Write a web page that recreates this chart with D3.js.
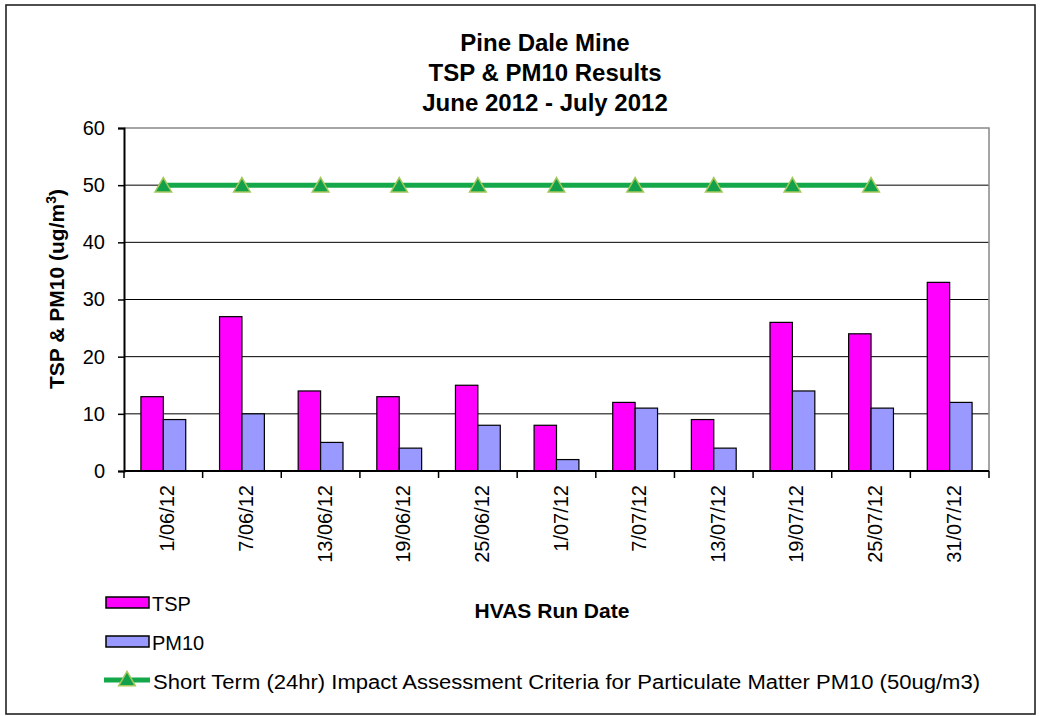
<!DOCTYPE html>
<html>
<head>
<meta charset="utf-8">
<script src="https://cdn.jsdelivr.net/npm/d3@7"></script>
<style>
  body { margin: 0; background: #fff; }
  text { font-family: "Liberation Sans", Arial, sans-serif; fill: #000; }
</style>
</head>
<body>
<div id="vis-container"></div>
<script>
(async () => {

    ////////////////////////////////////
    ////////////// Data ////////////////
    ////////////////////////////////////

    const dates = ['1/06/12', '7/06/12', '13/06/12', '19/06/12', '25/06/12', '1/07/12',
        '7/07/12', '13/07/12', '19/07/12', '25/07/12', '31/07/12']
    const tsp = [13, 27, 14, 13, 15, 8, 12, 9, 26, 24, 33]
    const pm10 = [9, 10, 5, 4, 8, 2, 11, 4, 14, 11, 12]
    // criteria line only runs to 25/07/12
    const criteriaDates = dates.slice(0, 10)
    const criteria = [50, 50, 50, 50, 50, 50, 50, 50, 50, 50]
    const yTicks = [0, 10, 20, 30, 40, 50, 60]

    const titleLines = ['Pine Dale Mine', 'TSP & PM10 Results', 'June 2012 - July 2012']

    ////////////////////////////////////
    ///////////// SVG Setup ////////////
    ////////////////////////////////////

    const svgWidth = 1041
    const svgHeight = 716

    const plot = { left: 124, right: 989, top: 128, bottom: 471 }

    const svg = d3.select('#vis-container')
        .append('svg')
        .attr('width', svgWidth)
        .attr('height', svgHeight)

    // chart frame
    svg.append('rect')
        .attr('x', 6).attr('y', 5)
        .attr('width', 1029).attr('height', 709)
        .attr('fill', 'none')
        .attr('stroke', '#222')
        .attr('stroke-width', 1.6)

    ////////////////////////////////////
    /////////////// Scales /////////////
    ////////////////////////////////////

    const xScale = d3.scaleBand()
        .domain(dates)
        .range([plot.left, plot.right])

    const yScale = d3.scaleLinear()
        .domain([0, 60])
        .range([plot.bottom, plot.top])

    const barW = xScale.bandwidth() * 0.285

    ////////////////////////////////////
    //////////// Gridlines /////////////
    ////////////////////////////////////

    svg.append('g')
        .selectAll('line')
        .data(yTicks.filter(d => d > 0 && d < 60))
        .join('line')
        .attr('x1', plot.left).attr('x2', plot.right)
        .attr('y1', d => yScale(d)).attr('y2', d => yScale(d))
        .attr('stroke', '#000')
        .attr('stroke-width', 1)

    // plot area border (top & right, grey)
    svg.append('path')
        .attr('d', `M${plot.left},${yScale(60)}H${plot.right}V${plot.bottom}`)
        .attr('fill', 'none')
        .attr('stroke', '#888')
        .attr('stroke-width', 1.5)

    ////////////////////////////////////
    /////////////// Bars ///////////////
    ////////////////////////////////////

    const bars = svg.append('g')

    bars.selectAll('.tsp')
        .data(tsp)
        .join('rect')
        .attr('class', 'tsp')
        .attr('x', (d, i) => xScale(dates[i]) + xScale.bandwidth() / 2 - barW)
        .attr('y', d => yScale(d))
        .attr('width', barW)
        .attr('height', d => yScale(0) - yScale(d))
        .attr('fill', '#FF00FF')
        .attr('stroke', '#000')
        .attr('stroke-width', 1.2)

    bars.selectAll('.pm10')
        .data(pm10)
        .join('rect')
        .attr('class', 'pm10')
        .attr('x', (d, i) => xScale(dates[i]) + xScale.bandwidth() / 2)
        .attr('y', d => yScale(d))
        .attr('width', barW)
        .attr('height', d => yScale(0) - yScale(d))
        .attr('fill', '#9999FF')
        .attr('stroke', '#000')
        .attr('stroke-width', 1.2)

    ////////////////////////////////////
    ////////////// Axis ////////////////
    ////////////////////////////////////

    const yAxis = svg.append('g')
        .attr('transform', `translate(${plot.left},0)`)
        .call(d3.axisLeft(yScale).tickValues(yTicks).tickSize(6).tickPadding(13))
    yAxis.select('.domain').attr('stroke', '#000').attr('stroke-width', 2)
    yAxis.selectAll('.tick line').attr('stroke', '#000').attr('stroke-width', 1.5)
    yAxis.selectAll('text')
        .attr('font-size', 20)
        .attr('font-family', '"Liberation Sans", Arial, sans-serif')

    // x axis: ticks sit on the band boundaries
    const xAxisG = svg.append('g')
        .attr('transform', `translate(0,${plot.bottom})`)
    xAxisG.append('line')
        .attr('x1', plot.left).attr('x2', plot.right)
        .attr('stroke', '#000').attr('stroke-width', 2)
    xAxisG.selectAll('.xtick')
        .data(dates.map(d => xScale(d)).concat([plot.right]))
        .join('line')
        .attr('class', 'xtick')
        .attr('x1', d => d).attr('x2', d => d)
        .attr('y1', 0).attr('y2', 7)
        .attr('stroke', '#000').attr('stroke-width', 1.5)
    xAxisG.selectAll('.xlabel')
        .data(dates)
        .join('text')
        .attr('class', 'xlabel')
        .attr('transform', d => `translate(${xScale(d) + xScale.bandwidth() / 2 + 11},14) rotate(-90)`)
        .attr('text-anchor', 'end')
        .attr('font-size', 20)
        .text(d => d)

    ////////////////////////////////////
    ///////// Criteria line ////////////
    ////////////////////////////////////

    const cx = d => xScale(d) + xScale.bandwidth() / 2
    const tri = d3.symbol().type(d3.symbolTriangle).size(120)

    svg.append('path')
        .datum(criteria)
        .attr('d', d3.line()
            .x((d, i) => cx(criteriaDates[i]))
            .y(d => yScale(d)))
        .attr('fill', 'none')
        .attr('stroke', '#14A84A')
        .attr('stroke-width', 5)

    svg.append('g')
        .selectAll('path')
        .data(criteria)
        .join('path')
        .attr('d', tri)
        .attr('transform', (d, i) => `translate(${cx(criteriaDates[i])},${yScale(d) + 2})`)
        .attr('fill', '#13A04A')
        .attr('stroke', '#A5C85A')
        .attr('stroke-width', 1.5)

    ////////////////////////////////////
    ////////////// Titles //////////////
    ////////////////////////////////////

    svg.append('g')
        .selectAll('text')
        .data(titleLines)
        .join('text')
        .attr('x', 545)
        .attr('y', (d, i) => 51 + i * 30)
        .attr('text-anchor', 'middle')
        .attr('font-size', 24)
        .attr('font-weight', 'bold')
        .text(d => d)

    const yLabel = svg.append('text')
        .attr('transform', 'translate(64,289) rotate(-90)')
        .attr('text-anchor', 'middle')
        .attr('font-size', 21)
        .attr('font-weight', 'bold')
    yLabel.append('tspan').text('TSP & PM10 (ug/m')
    yLabel.append('tspan').attr('font-size', 14).attr('dy', -8).text('3')
    yLabel.append('tspan').attr('dy', 8).text(')')

    svg.append('text')
        .attr('x', 552)
        .attr('y', 618)
        .attr('text-anchor', 'middle')
        .attr('font-size', 21)
        .attr('font-weight', 'bold')
        .text('HVAS Run Date')

    ////////////////////////////////////
    ////////////// Legend //////////////
    ////////////////////////////////////

    const legend = svg.append('g')

    legend.append('rect')
        .attr('x', 106).attr('y', 597).attr('width', 43).attr('height', 11)
        .attr('fill', '#FF00FF').attr('stroke', '#000').attr('stroke-width', 1.5)
    legend.append('text')
        .attr('x', 152).attr('y', 611).attr('font-size', 20).text('TSP')

    legend.append('rect')
        .attr('x', 106).attr('y', 636).attr('width', 43).attr('height', 11)
        .attr('fill', '#9999FF').attr('stroke', '#000').attr('stroke-width', 1.5)
    legend.append('text')
        .attr('x', 152).attr('y', 650).attr('font-size', 20).text('PM10')

    legend.append('line')
        .attr('x1', 104).attr('x2', 150).attr('y1', 680).attr('y2', 680)
        .attr('stroke', '#14A84A').attr('stroke-width', 5)
    legend.append('path')
        .attr('d', tri)
        .attr('transform', 'translate(127,681)')
        .attr('fill', '#13A04A').attr('stroke', '#A5C85A').attr('stroke-width', 1.5)
    legend.append('text')
        .attr('x', 153).attr('y', 689).attr('font-size', 20)
        .attr('textLength', 827).attr('lengthAdjust', 'spacingAndGlyphs')
        .text('Short Term (24hr)  Impact Assessment Criteria for Particulate Matter PM10 (50ug/m3)')

})()
</script>
</body>
</html>
